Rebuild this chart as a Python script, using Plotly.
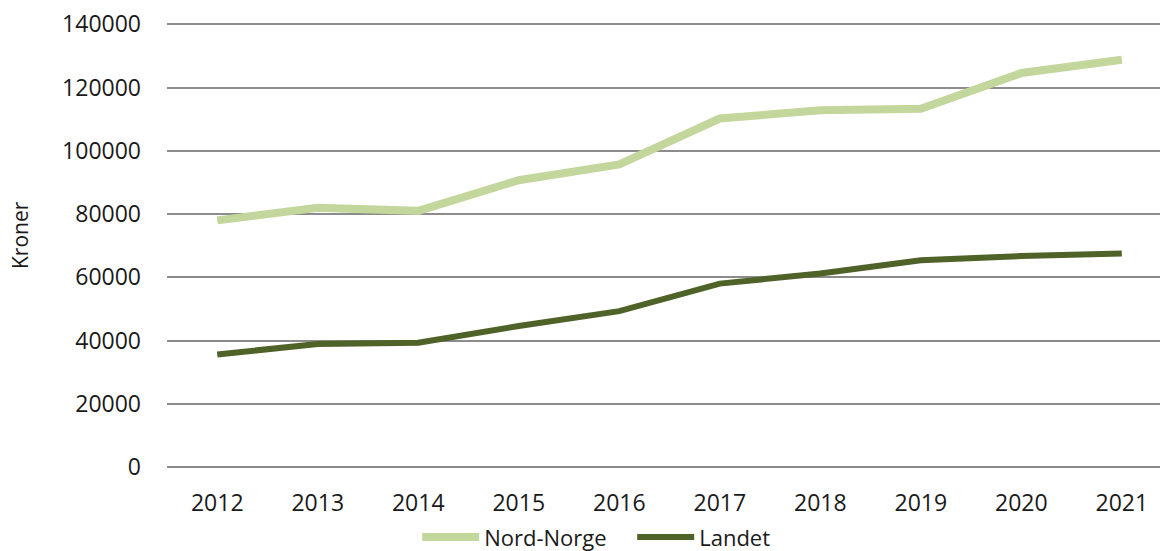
import plotly.graph_objects as go

years = [2012, 2013, 2014, 2015, 2016, 2017, 2018, 2019, 2020, 2021]
nord_norge = [78000, 82000, 81000, 90700, 95700, 110200, 112800, 113300, 124600, 128800]
landet = [35600, 38900, 39300, 44600, 49300, 58000, 61200, 65400, 66700, 67500]
y_ticks = [0, 20000, 40000, 60000, 80000, 100000, 120000, 140000]

FONT = "Open Sans"
W, H = 1160, 551
L, R, T, B = 167, 0, 22, 84
Y_MAX = 140000 * (467 - T) / (467 - 24.3)

fig = go.Figure()
fig.add_trace(go.Scatter(x=years, y=nord_norge, mode="lines", name="Nord-Norge",
                         line=dict(color="#c3d69b", width=8)))
fig.add_trace(go.Scatter(x=years, y=landet, mode="lines", name="Landet",
                         line=dict(color="#4f6228", width=6)))

fig.update_layout(
    width=W, height=H,
    margin=dict(l=L, r=R, t=T, b=B, autoexpand=False),
    paper_bgcolor="white", plot_bgcolor="white",
    font=dict(family=FONT, size=23, color="#1a1a1a"),
    showlegend=True,
    legend=dict(orientation="h", xref="container", yref="container",
                x=0.545, xanchor="center", y=0.025, yanchor="middle",
                font=dict(size=22), itemwidth=57, entrywidth=143,
                traceorder="normal"),
    xaxis=dict(range=[2011.5, 2021.38], tickmode="array", tickvals=years,
               ticktext=[str(y) for y in years], showgrid=False, zeroline=False,
               showline=False, ticks="", ticklabelstandoff=20,
               tickfont=dict(size=23)),
    yaxis=dict(range=[0, Y_MAX], tickmode="array", tickvals=y_ticks,
               ticktext=[str(v) for v in y_ticks], showgrid=True,
               gridcolor="#8c8c8c", gridwidth=2, zeroline=True,
               zerolinecolor="#8c8c8c", zerolinewidth=2, showline=False,
               ticks="", ticklabelstandoff=25, tickfont=dict(size=23)),
)
fig.add_annotation(text="Kroner", xref="paper", yref="paper",
                   x=(20 - L) / (W - L - R), y=(467 - 235) / (467 - T),
                   xanchor="center", yanchor="middle", textangle=-90,
                   showarrow=False, font=dict(size=21, family=FONT))

fig.write_html("out.html", config={"displayModeBar": False},
               post_script="document.body.style.margin='0';")
